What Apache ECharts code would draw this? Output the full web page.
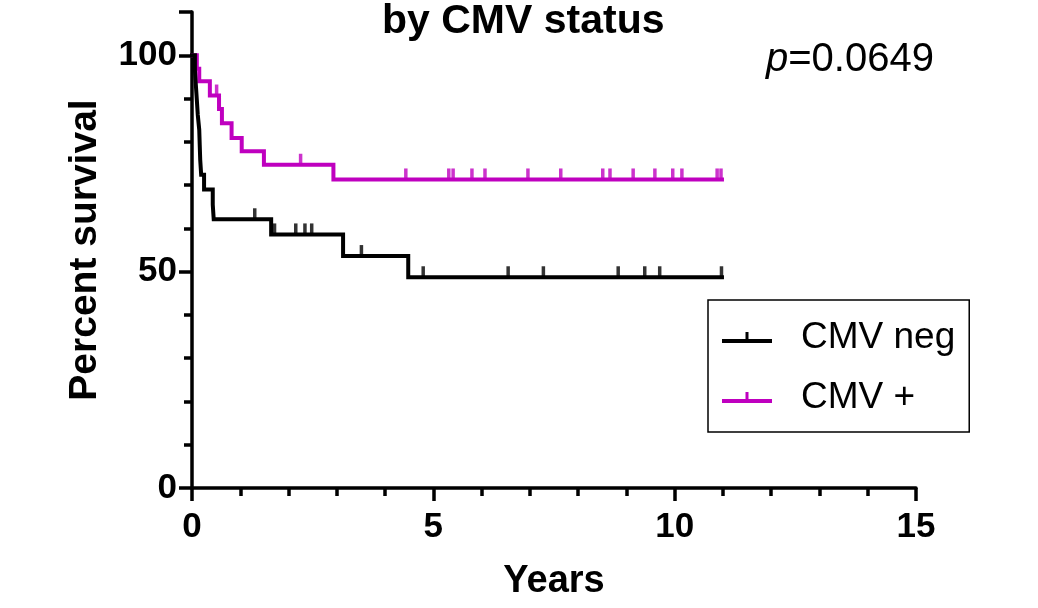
<!DOCTYPE html>
<html>
<head>
<meta charset="utf-8">
<script src="https://cdn.jsdelivr.net/npm/echarts@6/dist/echarts.min.js"></script>
<style>
html,body{margin:0;padding:0;background:#fff;}
#chart{width:1038px;height:608px;}
</style>
</head>
<body>
<div id="chart"></div>
<script>
// ---- Data ----
const seriesNames = ['CMV neg', 'CMV +'];
// CMV neg: event times (years) and survival (%) after each step
const negTimes = [0, 0.06, 0.08, 0.10, 0.12, 0.15, 0.16, 0.17, 0.19, 0.25, 0.43, 0.45, 1.64, 3.13, 4.48];
const negSurv  = [100, 96.6, 93.1, 89.7, 86.2, 82.8, 79.3, 75.9, 72.4, 69.0, 65.5, 62.1, 58.6, 53.6, 48.7];
const negEnd = 10.98;
const negCensor = [1.30, 1.71, 2.15, 2.34, 2.48, 3.51, 4.79, 6.55, 7.28, 8.83, 9.38, 9.69, 10.97];
// CMV +: event times (years) and survival (%)
const posTimes = [0, 0.10, 0.15, 0.37, 0.56, 0.62, 0.82, 1.03, 1.49, 2.93];
const posSurv  = [100, 96.9, 94.0, 90.7, 87.6, 84.3, 80.9, 77.8, 74.7, 71.3];
const posEnd = 10.98;
const posCensor = [0.51, 2.25, 4.43, 5.32, 5.41, 5.80, 6.07, 6.96, 7.64, 8.51, 8.66, 9.14, 9.59, 9.96, 10.15, 10.88, 10.96];
// Axis ticks
const xTickLabels = [0, 5, 10, 15];
const yTickLabels = [0, 50, 100];
const titleText = 'by CMV status';
const pValueText = '0.0649';

// ---- Helpers ----
function stepPoints(times, surv, end) {
  const pts = times.map((t, i) => [t, surv[i]]);
  pts.push([end, surv[surv.length - 1]]);
  return pts;
}
function survAt(times, surv, t) {
  let s = surv[0];
  for (let i = 0; i < times.length; i++) { if (times[i] <= t) s = surv[i]; }
  return s;
}
const negColor = '#000000';
const posColor = '#BF00BF';
const FONT = '"Liberation Sans", Arial, Helvetica, sans-serif';
const tickIcon = 'path://M0,9 L50,9 L50,13 L0,13 Z M23.5,2 L26.5,2 L26.5,9 L23.5,9 Z';

const chart = echarts.init(document.getElementById('chart'), null, {renderer: 'canvas'});
const grid = {left: 192, right: 122, top: 12, bottom: 120, containLabel: false};

const option = {
  animation: false,
  backgroundColor: '#fff',
  title: [
    {text: titleText, left: 382, top: 1, padding: 0,
     textStyle: {fontFamily: FONT, fontSize: 41, fontWeight: 'bold', color: '#000'}},
    {text: '{i|p}=' + pValueText, left: 766, top: 40, padding: 0,
     textStyle: {fontFamily: FONT, fontSize: 40, fontWeight: 'normal', color: '#000',
       rich: {i: {fontFamily: FONT, fontSize: 40, fontStyle: 'italic', color: '#000'}}}}
  ],
  legend: {
    data: seriesNames,
    orient: 'vertical',
    left: 708, top: 300,
    padding: [19, 14, 16, 14],
    itemGap: 23,
    itemWidth: 50, itemHeight: 14,
    borderColor: '#000', borderWidth: 1.5, borderRadius: 0,
    textStyle: {fontFamily: FONT, fontSize: 37, color: '#000', padding: [0, 0, 0, 24]},
    selectedMode: false
  },
  grid: grid,
  xAxis: [
    {type: 'value', min: 0, max: 15, interval: 1, position: 'bottom',
     name: 'Years', nameLocation: 'middle', nameGap: 75,
     nameTextStyle: {fontFamily: FONT, fontSize: 38, fontWeight: 'bold', color: '#000'},
     axisLine: {show: true, onZero: false, lineStyle: {color: '#000', width: 3.5}},
     axisTick: {show: true, inside: false, length: 8, lineStyle: {color: '#000', width: 3.5}},
     axisLabel: {show: false}, splitLine: {show: false}},
    {type: 'value', min: 0, max: 15, interval: 5, position: 'bottom',
     axisLine: {show: false, onZero: false},
     axisTick: {show: true, inside: false, length: 13, lineStyle: {color: '#000', width: 3.5}},
     axisLabel: {show: true, margin: 22, fontFamily: FONT, fontSize: 35, fontWeight: 'bold', color: '#000',
       formatter: v => xTickLabels.indexOf(v) >= 0 ? String(v) : ''},
     splitLine: {show: false}}
  ],
  yAxis: [
    {type: 'value', min: 0, max: 110, interval: 10, position: 'left',
     name: 'Percent survival', nameLocation: 'middle', nameGap: 87, nameRotate: 90,
     nameTextStyle: {fontFamily: FONT, fontSize: 39, fontWeight: 'bold', color: '#000'},
     axisLine: {show: true, onZero: false, lineStyle: {color: '#000', width: 3.5}},
     axisTick: {show: true, inside: false, length: 8, lineStyle: {color: '#000', width: 3.5}},
     axisLabel: {show: false}, splitLine: {show: false}},
    {type: 'value', min: 0, max: 110, interval: 50, position: 'left',
     axisLine: {show: false, onZero: false},
     axisTick: {show: true, inside: false, length: 13, lineStyle: {color: '#000', width: 3.5}},
     axisLabel: {show: true, margin: 15, fontFamily: FONT, fontSize: 35, fontWeight: 'bold', color: '#000',
       formatter: v => yTickLabels.indexOf(v) >= 0 ? String(v) : ''},
     splitLine: {show: false}}
  ],
  series: [
    {name: 'CMV +', type: 'line', step: 'end', xAxisIndex: 0, yAxisIndex: 0,
     data: stepPoints(posTimes, posSurv, posEnd), showSymbol: false, symbol: 'none',
     lineStyle: {color: posColor, width: 4, cap: 'square', join: 'miter'}, itemStyle: {color: posColor},
     z: 3},
    {name: 'CMV +', type: 'scatter', xAxisIndex: 0, yAxisIndex: 0,
     data: posCensor.map(t => [t, survAt(posTimes, posSurv, t)]),
     symbol: 'rect', symbolSize: [3.5, 11], symbolOffset: [0, -5.5],
     itemStyle: {color: posColor}, z: 3, silent: true},
    {name: 'CMV neg', type: 'line', step: 'end', xAxisIndex: 0, yAxisIndex: 0,
     data: stepPoints(negTimes, negSurv, negEnd), showSymbol: false, symbol: 'none',
     lineStyle: {color: negColor, width: 4, cap: 'square', join: 'miter'}, itemStyle: {color: negColor},
     z: 4},
    {name: 'CMV neg', type: 'scatter', xAxisIndex: 0, yAxisIndex: 0,
     data: negCensor.map(t => [t, survAt(negTimes, negSurv, t)]),
     symbol: 'rect', symbolSize: [3.5, 11], symbolOffset: [0, -5.5],
     itemStyle: {color: negColor}, z: 4, silent: true}
  ]
};
option.legend.data = seriesNames.map(n => ({name: n, icon: tickIcon}));
chart.setOption(option);
</script>
</body>
</html>
